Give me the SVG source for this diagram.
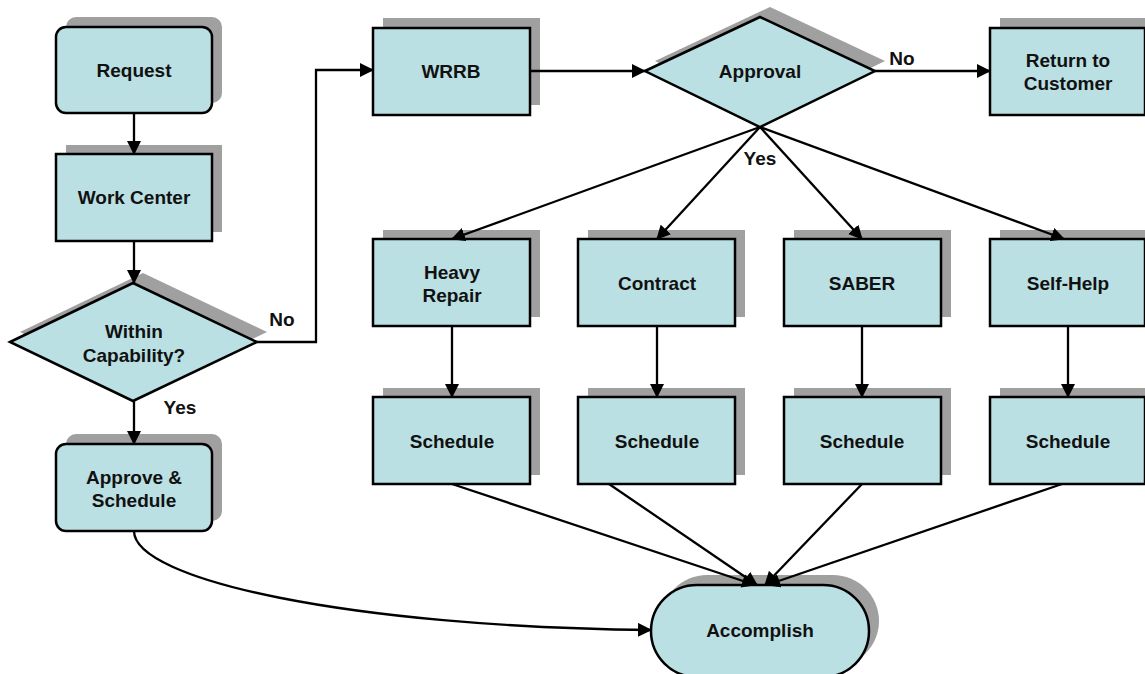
<svg xmlns="http://www.w3.org/2000/svg" width="1145" height="674" viewBox="0 0 1145 674">
<style>
.sh{fill:#a0a0a0;stroke:none}
.nd{fill:#bae0e3;stroke:#000;stroke-width:2.5}
.t{font-family:"Liberation Sans",Arial,sans-serif;font-weight:bold;font-size:19px;fill:#111;text-anchor:middle}
.c{fill:none;stroke:#000;stroke-width:2.3}
</style>
<defs>
<marker id="ah" markerUnits="userSpaceOnUse" markerWidth="14" markerHeight="14" viewBox="0 0 14 14" refX="13" refY="7" orient="auto">
<path d="M0,0 L14,7 L0,14 Z" fill="#000"/>
</marker>
</defs>
<rect width="1145" height="674" fill="#fff"/>
<g id="request">
<rect class="sh" x="66" y="17" width="156" height="86" rx="10"/>
<rect class="nd" x="56" y="27" width="156" height="86" rx="10"/>
<text class="t" x="134" y="77">Request</text>
</g>
<g id="work-center">
<rect class="sh" x="66" y="145" width="156" height="87"/>
<rect class="nd" x="56" y="154" width="156" height="87"/>
<text class="t" x="134" y="204">Work Center</text>
</g>
<g id="within-capability">
<polygon class="sh" points="20,332 143,273 267,332 143,391"/>
<polygon class="nd" points="10,342 133,283 257,342 133,401"/>
<text class="t" x="134" y="338">Within</text>
<text class="t" x="134" y="362">Capability?</text>
</g>
<g id="approve-schedule">
<rect class="sh" x="66" y="434" width="156" height="87" rx="10"/>
<rect class="nd" x="56" y="444" width="156" height="87" rx="10"/>
<text class="t" x="134" y="484">Approve &amp;</text>
<text class="t" x="134" y="507">Schedule</text>
</g>
<g id="wrrb">
<rect class="sh" x="383" y="18" width="157" height="87"/>
<rect class="nd" x="373" y="28" width="157" height="87"/>
<text class="t" x="451" y="78">WRRB</text>
</g>
<g id="approval">
<polygon class="sh" points="655,61 770,7 885,61 770,117"/>
<polygon class="nd" points="645,71 760,17 875,71 760,127"/>
<text class="t" x="760" y="78">Approval</text>
</g>
<g id="return-to-customer">
<rect class="sh" x="1000" y="18" width="157" height="87"/>
<rect class="nd" x="990" y="28" width="155" height="87"/>
<text class="t" x="1068" y="67">Return to</text>
<text class="t" x="1068" y="90">Customer</text>
</g>
<g id="heavy-repair">
<rect class="sh" x="383" y="230" width="157" height="87"/>
<rect class="nd" x="373" y="239" width="157" height="87"/>
<text class="t" x="452" y="279">Heavy</text>
<text class="t" x="452" y="302">Repair</text>
</g>
<g id="contract">
<rect class="sh" x="588" y="230" width="157" height="87"/>
<rect class="nd" x="578" y="239" width="157" height="87"/>
<text class="t" x="657" y="290">Contract</text>
</g>
<g id="saber">
<rect class="sh" x="794" y="230" width="157" height="87"/>
<rect class="nd" x="784" y="239" width="157" height="87"/>
<text class="t" x="862" y="290">SABER</text>
</g>
<g id="self-help">
<rect class="sh" x="1000" y="230" width="157" height="87"/>
<rect class="nd" x="990" y="239" width="155" height="87"/>
<text class="t" x="1068" y="290">Self-Help</text>
</g>
<g id="schedule-1">
<rect class="sh" x="383" y="388" width="157" height="87"/>
<rect class="nd" x="373" y="397" width="157" height="87"/>
<text class="t" x="452" y="448">Schedule</text>
</g>
<g id="schedule-2">
<rect class="sh" x="588" y="388" width="157" height="87"/>
<rect class="nd" x="578" y="397" width="157" height="87"/>
<text class="t" x="657" y="448">Schedule</text>
</g>
<g id="schedule-3">
<rect class="sh" x="794" y="388" width="157" height="87"/>
<rect class="nd" x="784" y="397" width="157" height="87"/>
<text class="t" x="862" y="448">Schedule</text>
</g>
<g id="schedule-4">
<rect class="sh" x="1000" y="388" width="157" height="87"/>
<rect class="nd" x="990" y="397" width="155" height="87"/>
<text class="t" x="1068" y="448">Schedule</text>
</g>
<g id="accomplish">
<rect class="sh" x="661" y="575" width="218" height="92" rx="46"/>
<rect class="nd" x="651" y="585" width="218" height="92" rx="46"/>
<text class="t" x="760" y="637">Accomplish</text>
</g>
<g id="connectors">
<path class="c" d="M134,113 V154" marker-end="url(#ah)"/>
<path class="c" d="M134,241 V283" marker-end="url(#ah)"/>
<path class="c" d="M134,401 V444" marker-end="url(#ah)"/>
<path class="c" d="M257,342 H316 V70 H373" marker-end="url(#ah)"/>
<path class="c" d="M530,71 H645" marker-end="url(#ah)"/>
<path class="c" d="M875,71 H990" marker-end="url(#ah)"/>
<path class="c" d="M760,127 L452,239" marker-end="url(#ah)"/>
<path class="c" d="M760,127 L657,239" marker-end="url(#ah)"/>
<path class="c" d="M760,127 L862,239" marker-end="url(#ah)"/>
<path class="c" d="M760,127 L1064,239" marker-end="url(#ah)"/>
<path class="c" d="M452,326 V397" marker-end="url(#ah)"/>
<path class="c" d="M657,326 V397" marker-end="url(#ah)"/>
<path class="c" d="M862,326 V397" marker-end="url(#ah)"/>
<path class="c" d="M1068,326 V397" marker-end="url(#ah)"/>
<path class="c" d="M452,484 L755,585" marker-end="url(#ah)"/>
<path class="c" d="M609,484 L757,585" marker-end="url(#ah)"/>
<path class="c" d="M862,484 L765,585" marker-end="url(#ah)"/>
<path class="c" d="M1062,484 L767,585" marker-end="url(#ah)"/>
<path class="c" d="M134,531 C134,580 350,627 651,630" marker-end="url(#ah)"/>
<text class="t" x="282" y="326">No</text>
<text class="t" x="180" y="414">Yes</text>
<text class="t" x="902" y="65">No</text>
<text class="t" x="760" y="165">Yes</text>
</g>
</svg>
